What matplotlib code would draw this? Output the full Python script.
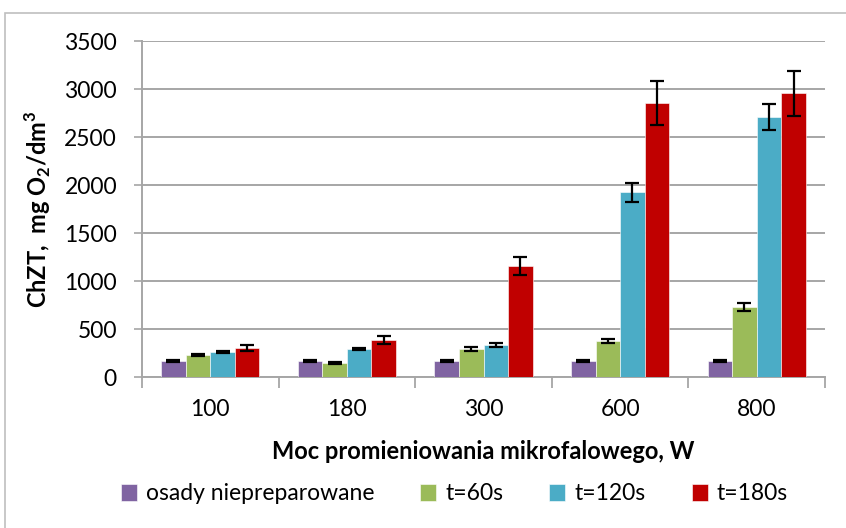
import numpy as np
import matplotlib.pyplot as plt
from matplotlib.patches import Rectangle

plt.rcParams['font.family'] = ['Lato', 'DejaVu Sans']
plt.rcParams['mathtext.fontset'] = 'custom'
plt.rcParams['mathtext.rm'] = 'Lato'
plt.rcParams['mathtext.bf'] = 'Lato:bold'

power = ['100', '180', '300', '600', '800']
labels = ['osady niepreparowane', 't=60s', 't=120s', 't=180s']
raw = [165, 165, 165, 165, 165]
t60 = [228, 145, 292, 375, 729]
t120 = [260, 292, 336, 1924, 2705]
t180 = [302, 385, 1159, 2855, 2955]
err_raw = [8, 8, 8, 8, 8]
err_t60 = [10, 8, 18, 22, 42]
err_t120 = [12, 14, 20, 97, 137]
err_t180 = [31, 38, 94, 227, 235]
colors = ['#8064A2', '#9BBB59', '#4BACC6', '#C00000']

series = [raw, t60, t120, t180]
errs = [err_raw, err_t60, err_t120, err_t180]

fig = plt.figure(figsize=(8.46, 5.28), dpi=100)
ax = fig.add_axes([142/846, 1-377/528, 683/846, 336/528])

ind = np.arange(len(power))
width = 0.18
for i, (vals, e) in enumerate(zip(series, errs)):
    ax.bar(ind + (i - 1.5)*width, vals, width, color=colors[i], label=labels[i],
           edgecolor='white', linewidth=0.4, zorder=3,
           yerr=e, error_kw=dict(ecolor='black', elinewidth=1.6, capsize=5, capthick=1.6, zorder=4))

ax.set_xlim(-0.5, len(power) - 0.5)
ax.set_ylim(0, 3500)
ax.set_yticks(np.arange(0, 3501, 500))
ax.set_xticks(ind)
ax.set_xticklabels(power)
ax.set_xticks(np.arange(-0.5, len(power)), minor=True)
ax.tick_params(axis='x', which='major', length=0, pad=16, labelsize=16.5)
ax.tick_params(axis='x', which='minor', length=8, width=1.3, color='#A6A6A6')
ax.tick_params(axis='y', length=6, width=1.2, color='#A6A6A6', labelsize=16.5, pad=12)
ax.yaxis.grid(True, color='#A6A6A6', linewidth=1.4, zorder=0)
for s in ['top', 'right']:
    ax.spines[s].set_visible(False)
for s in ['left', 'bottom']:
    ax.spines[s].set_color('#A6A6A6')
    ax.spines[s].set_linewidth(1.4)

ax.set_xlabel('Moc promieniowania mikrofalowego, W', fontsize=17, fontweight='bold', labelpad=14)
ax.set_ylabel(r'ChZT,  mg O$_\mathbf{2}$/dm$^\mathbf{3}$', fontsize=17, fontweight='bold', labelpad=8)

fig.legend(loc='center', bbox_to_anchor=(0.537, 1-494/528), ncol=4, frameon=False,
           fontsize=16.5, handlelength=0.7, handleheight=0.7, handletextpad=0.4,
           columnspacing=2.0)

fig.patches.append(Rectangle((5/846, -0.1), 1.2, 1.1 - 13/528, transform=fig.transFigure,
                             fill=False, edgecolor='#BFBFBF', linewidth=1.2))

plt.savefig('out.png', dpi=100)
